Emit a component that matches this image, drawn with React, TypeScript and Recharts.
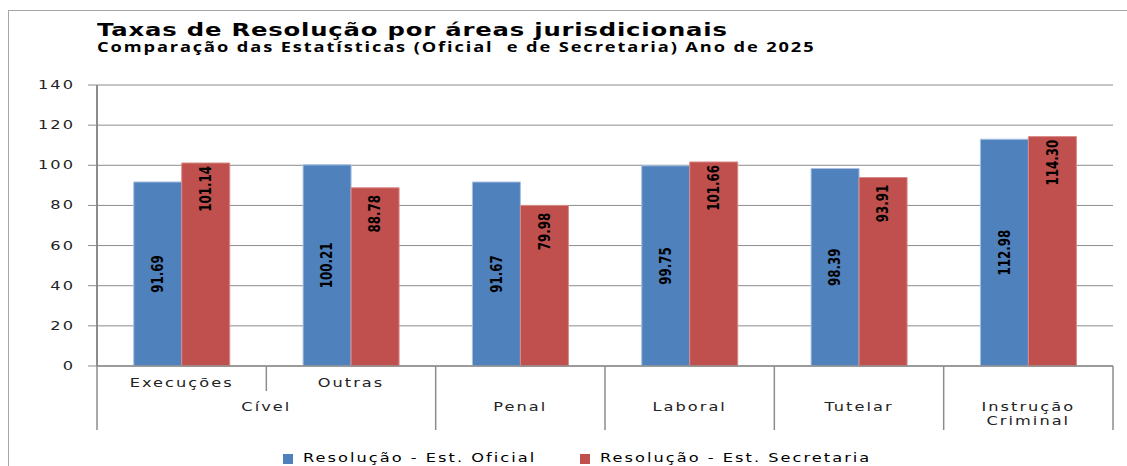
import React from "react";
import { BarChart, Bar, XAxis, YAxis, CartesianGrid, LabelList } from "recharts";

const categories = ["Execuções", "Outras", "Penal", "Laboral", "Tutelar", "Instrução Criminal"];
const subLabels = ["Execuções", "Outras", "", "", "", ""];
const groupLabels = ["Cível", "Cível", "Penal", "Laboral", "Tutelar", "Instrução\nCriminal"];
const oficial = [91.69, 100.21, 91.67, 99.75, 98.39, 112.98];
const secretaria = [101.14, 88.78, 79.98, 101.66, 93.91, 114.3];
const yTicks = [0, 20, 40, 60, 80, 100, 120, 140];
const seriesNames = ["Resolução - Est. Oficial", "Resolução - Est. Secretaria"];

const BLUE = "#4F81BD";
const RED = "#C0504D";
const GRID = "#8c8c8c";
const TEXT = "#222";
const FONT = "'DejaVu Sans', Verdana, sans-serif";
const STRETCH = 1.35;

const W = 1127;
const H = 466;
const PLOT_LEFT = 97;
const PLOT_RIGHT = 1113;
const PLOT_W = PLOT_RIGHT - PLOT_LEFT;

const data = categories.map((c, i) => ({
  name: c,
  oficial: oficial[i],
  secretaria: secretaria[i],
}));

function StretchText({ x, y, anchor, children }: { x: number; y: number; anchor: string; children: React.ReactNode }) {
  return (
    <text
      transform={`translate(${x},${y}) scale(${STRETCH},1)`}
      textAnchor={anchor}
      fontFamily={FONT}
      fontSize={12}
      letterSpacing={1.5}
      fill={TEXT}
    >
      {children}
    </text>
  );
}

function YTick(props: any) {
  const { x, y, payload } = props;
  return (
    <StretchText x={x} y={y + 4} anchor="end">
      {payload.value}
    </StretchText>
  );
}

function AreaTick(props: any) {
  const { x, y, index } = props;
  const n = categories.length;
  const band = PLOT_W / n;
  const left = x - band / 2;
  const group = groupLabels[index];
  const isStart = index === 0 || groupLabels[index - 1] !== group;
  let run = 1;
  while (index + run < n && groupLabels[index + run] === group) run++;
  const groupX = x + ((run - 1) * band) / 2;
  const lines = group.split("\n");
  return (
    <g>
      <line x1={left} x2={left} y1={y} y2={isStart ? y + 64 : y + 25} stroke={GRID} strokeWidth={1.5} />
      {index === n - 1 && (
        <line x1={x + band / 2} x2={x + band / 2} y1={y} y2={y + 64} stroke={GRID} strokeWidth={1.5} />
      )}
      {subLabels[index] && (
        <StretchText x={x} y={y + 21} anchor="middle">
          {subLabels[index]}
        </StretchText>
      )}
      {isStart &&
        lines.map((l, k) => (
          <StretchText key={k} x={groupX} y={y + 45 + k * 14} anchor="middle">
            {l}
          </StretchText>
        ))}
    </g>
  );
}

function makeLabel(pos: "center" | "top") {
  return (props: any) => {
    const { x, y, width, height, value } = props;
    const cx = x + width / 2;
    const cy = pos === "center" ? y + height / 2 : y + 26;
    return (
      <text
        x={0}
        y={0}
        transform={`translate(${cx},${cy}) rotate(-90) scale(0.88,1)`}
        textAnchor="middle"
        dominantBaseline="central"
        fontFamily="'DejaVu Sans Condensed', 'Liberation Sans Narrow', sans-serif"
        fontWeight="bold"
        fontSize={15}
        fill="#000"
      >
        {Number(value).toFixed(2)}
      </text>
    );
  };
}

function Stretched({ left, top, size, weight, family, spacing, children }: any) {
  return (
    <div
      style={{
        position: "absolute",
        left,
        top,
        fontFamily: family,
        fontSize: size,
        fontWeight: weight,
        letterSpacing: spacing,
        lineHeight: `${size}px`,
        whiteSpace: "pre",
        color: "#000",
        transform: `scaleX(${STRETCH})`,
        transformOrigin: "left top",
      }}
    >
      {children}
    </div>
  );
}

export default function App() {
  return (
    <div style={{ position: "absolute", left: 0, top: 0, width: W, height: H, background: "#fff", overflow: "hidden" }}>
      <div
        style={{
          position: "absolute",
          left: 8,
          top: 10,
          width: 1130,
          height: 480,
          borderLeft: "1px solid #a6a6a6",
          borderTop: "1px solid #a6a6a6",
        }}
      />
      <Stretched left={97} top={21} size={18} weight="bold" family={FONT} spacing={0.6}>
        Taxas de Resolução por áreas jurisdicionais
      </Stretched>
      <Stretched left={97} top={41} size={13.5} weight="bold" family="'Open Sans', sans-serif" spacing={1.4}>
        Comparação das Estatísticas (Oficial  e de Secretaria) Ano de 2025
      </Stretched>
      <div style={{ position: "absolute", left: 0, top: 0 }}>
        <BarChart
          width={W}
          height={H}
          data={data}
          margin={{ top: 85, right: W - PLOT_RIGHT, bottom: 36, left: 0 }}
          barCategoryGap="21.7%"
          barGap={0}
        >
          <CartesianGrid vertical={false} stroke={GRID} strokeWidth={1} />
          <XAxis
            dataKey="name"
            height={64}
            interval={0}
            tickSize={0}
            tickMargin={0}
            tickLine={false}
            axisLine={{ stroke: GRID, strokeWidth: 1.5 }}
            tick={<AreaTick />}
          />
          <YAxis
            width={PLOT_LEFT}
            domain={[0, 140]}
            ticks={yTicks}
            tickSize={9}
            tickMargin={13}
            tickLine={{ stroke: GRID }}
            axisLine={{ stroke: GRID, strokeWidth: 2 }}
            tick={<YTick />}
          />
          <Bar dataKey="oficial" name={seriesNames[0]} fill={BLUE} stroke="#a9c1e0" strokeWidth={1} isAnimationActive={false}>
            <LabelList dataKey="oficial" content={makeLabel("center")} />
          </Bar>
          <Bar dataKey="secretaria" name={seriesNames[1]} fill={RED} stroke="#d98a88" strokeWidth={1} isAnimationActive={false}>
            <LabelList dataKey="secretaria" content={makeLabel("top")} />
          </Bar>
        </BarChart>
      </div>
      {[BLUE, RED].map((c, i) => (
        <div key={i} style={{ position: "absolute", left: i === 0 ? 283 : 580, top: 454 }}>
          <div style={{ position: "absolute", left: 0, top: 0, width: 10, height: 10, background: c }} />
          <Stretched left={20} top={-2} size={12} weight="normal" family={FONT} spacing={1.5}>
            {seriesNames[i]}
          </Stretched>
        </div>
      ))}
    </div>
  );
}
